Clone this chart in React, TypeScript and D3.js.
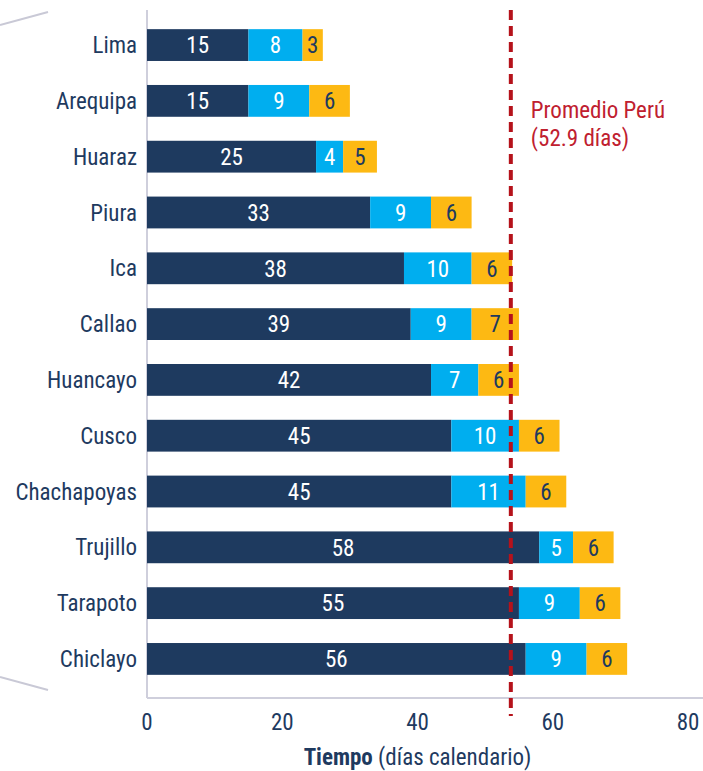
import React from "react";
import * as d3 from "d3";

const categories = ["Lima", "Arequipa", "Huaraz", "Piura", "Ica", "Callao", "Huancayo", "Cusco", "Chachapoyas", "Trujillo", "Tarapoto", "Chiclayo"];
const seriesA = [15, 15, 25, 33, 38, 39, 42, 45, 45, 58, 55, 56];
const seriesB = [8, 9, 4, 9, 10, 9, 7, 10, 11, 5, 9, 9];
const seriesC = [3, 6, 5, 6, 6, 7, 6, 6, 6, 6, 6, 6];
const xTicks = [0, 20, 40, 60, 80];
const averageValue = 53.8;
const averageLabel = ["Promedio Perú", "(52.9 días)"];

const W = 703;
const H = 771;
const FONT = "'Liberation Sans Narrow', 'Arial Narrow', 'Roboto Condensed', 'Liberation Sans', sans-serif";
const colors = ["#1e3a5f", "#00aeef", "#fdb913"];
const textColors = ["#ffffff", "#ffffff", "#1e3a5f"];

export default function App() {
  const x = d3.scaleLinear().domain([0, 80]).range([147, 688]);
  const y = d3.scaleBand<string>().domain(categories).range([18, 686]).paddingInner(0.43).paddingOuter(0.2);
  const series = [seriesA, seriesB, seriesC];
  const axisColor = "#cfcfdc";
  const fs = 23;

  return (
    <svg width={W} height={H} style={{ position: "absolute", left: 0, top: 0, background: "#fff" }} fontFamily={FONT}>
      {/* decorative lines */}
      <line x1={0} y1={25} x2={48} y2={12} stroke="#c9c9d6" strokeWidth={2} />
      <line x1={0} y1={677} x2={48} y2={690} stroke="#c9c9d6" strokeWidth={2} />

      {/* axes */}
      <line x1={x(0)} y1={10} x2={x(0)} y2={698} stroke={axisColor} strokeWidth={2} />
      <line x1={x(0)} y1={698} x2={W} y2={698} stroke={axisColor} strokeWidth={2} />

      {categories.map((c, i) => {
        let acc = 0;
        const yy = y(c)!;
        const bh = y.bandwidth();
        return (
          <g key={c}>
            <text x={x(0) - 10} y={yy + bh / 2} dy="0.35em" textAnchor="end" fontSize={fs} fill="#1e3a5f">
              {c}
            </text>
            {series.map((s, k) => {
              const v = s[i];
              const x0 = x(acc);
              acc += v;
              const x1 = x(acc);
              return (
                <g key={k}>
                  <rect x={x0} y={yy} width={x1 - x0} height={bh} fill={colors[k]} />
                  <text x={(x0 + x1) / 2} y={yy + bh / 2} dy="0.36em" textAnchor="middle" fontSize={fs} fill={textColors[k]}>
                    {v}
                  </text>
                </g>
              );
            })}
          </g>
        );
      })}

      {/* average line */}
      <line x1={x(averageValue)} y1={10} x2={x(averageValue)} y2={716} stroke="#b5121b" strokeWidth={4} strokeDasharray="10,6" />
      {averageLabel.map((t, i) => (
        <text key={i} x={x(averageValue) + 20} y={118 + i * 28} fontSize={fs} fill="#c0202f">
          {t}
        </text>
      ))}

      {/* ticks */}
      {xTicks.map((t) => (
        <text key={t} x={x(t)} y={730} textAnchor="middle" fontSize={fs} fill="#1e3a5f">
          {t}
        </text>
      ))}
      <text x={x(40)} y={765} textAnchor="middle" fontSize={fs} fill="#1e3a5f">
        <tspan fontWeight="bold">Tiempo</tspan>
        <tspan> (días calendario)</tspan>
      </text>
    </svg>
  );
}
